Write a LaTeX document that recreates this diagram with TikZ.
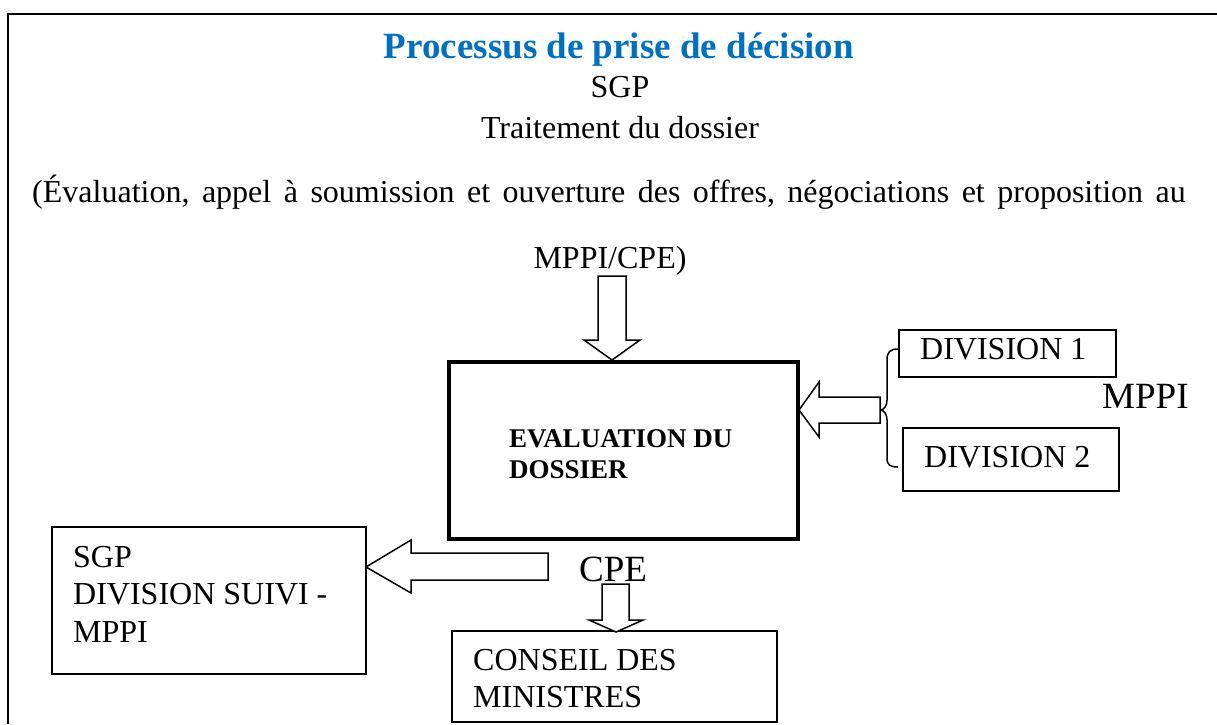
\documentclass[tikz,border=0pt]{standalone}
\usepackage{fontspec}
\setmainfont{Liberation Serif}
\definecolor{titleblue}{RGB}{0,112,192}
\begin{document}
\begin{tikzpicture}[x=1pt,y=-1pt,
  txt/.style={inner sep=0pt,anchor=base,font=\fontsize{32}{38}\selectfont},
  txtl/.style={inner sep=0pt,anchor=base west,font=\fontsize{32}{38}\selectfont},
  bigl/.style={inner sep=0pt,anchor=base west,font=\fontsize{37}{44}\selectfont},
  boldl/.style={inner sep=0pt,anchor=base west,font=\fontsize{27}{31}\selectfont\bfseries},
  plainbox/.style={draw,line width=1.5pt,inner sep=0pt,outer sep=0pt},
  blockarrow/.style={draw,line width=1.5pt,fill=white,line join=miter}
]
\useasboundingbox (0,0) rectangle (1217,724);

% frame lines
\draw[line width=2.5pt] (1217,14) -- (8,14) -- (8,724);

% heading and description
\node[txt,font=\fontsize{37}{44}\selectfont\bfseries,text=titleblue] (title) at (619,58) {Processus de prise de décision};
\node[txt] (sgp) at (620,97) {SGP};
\node[txt] (trait) at (620,138) {Traitement du dossier};
\node[txt] (desc) at (609,202) {\spaceskip=12.5pt\relax(Évaluation, appel à soumission et ouverture des offres, négociations et proposition au};
\node[txt] (desc2) at (610,268) {MPPI/CPE)};

% boxes
\node[draw,line width=4pt,inner sep=0pt,minimum width=349pt,minimum height=177pt] (eval) at (623.5,450.5) {};
\node[boldl] (evalA) at (509,447) {EVALUATION DU};
\node[boldl] (evalB) at (509,478) {DOSSIER};

\node[plainbox,minimum width=217pt,minimum height=47pt] (div1) at (1007.5,353.5) {};
\node[txtl] (div1t) at (920,359) {DIVISION 1};
\node[plainbox,minimum width=216pt,minimum height=63pt] (div2) at (1011,459.5) {};
\node[txtl] (div2t) at (924,467) {DIVISION 2};
\node[bigl] (mppi) at (1102,408) {MPPI};

\node[plainbox,minimum width=314pt,minimum height=147pt] (suivi) at (209,600.5) {};
\node[txtl] (suiviA) at (73,567) {SGP};
\node[txtl] (suiviB) at (73,604) {DIVISION SUIVI -};
\node[txtl] (suiviC) at (73,642) {MPPI};

\node[bigl] (cpe) at (579,581) {CPE};

\node[plainbox,minimum width=325pt,minimum height=91pt] (conseil) at (614.5,676.5) {};
\node[txtl] (conseilA) at (473,670) {CONSEIL DES};
\node[txtl] (conseilB) at (473,707) {MINISTRES};

% brace grouping the two divisions
\draw[line width=1.5pt] (898,349) .. controls (890,349) and (887,352) .. (887,360) -- (887,400)
  .. controls (887,406) and (884,410) .. (880,410)
  .. controls (884,410) and (887,414) .. (887,420) -- (887,458)
  .. controls (887,465) and (890,467) .. (898,467);

% block arrows
\coordinate (tipA) at (612,360);
\draw[blockarrow] (598,276) -- (626,276) -- (626,340) -- (640,340) -- (tipA) -- (584,340) -- (598,340) -- cycle;

\coordinate (tipB) at (799,410);
\draw[blockarrow] (880,397) -- (819,397) -- (819,382) -- (tipB) -- (819,437) -- (819,423) -- (880,423) -- cycle;

\coordinate (tipC) at (366,567);
\draw[blockarrow] (548,553) -- (411,553) -- (411,540) -- (tipC) -- (411,593) -- (411,580) -- (548,580) -- cycle;

\coordinate (tipD) at (616,632);
\draw[blockarrow] (602,584) -- (629,584) -- (629,620) -- (643,620) -- (tipD) -- (589,620) -- (602,620) -- cycle;
\end{tikzpicture}
\end{document}
